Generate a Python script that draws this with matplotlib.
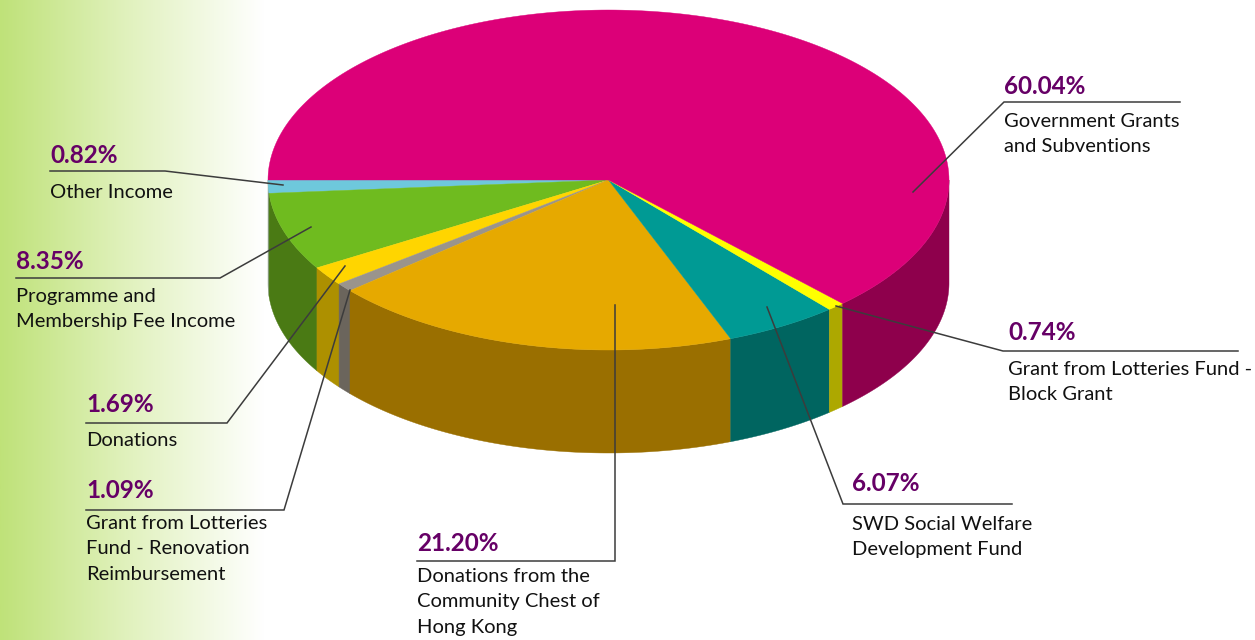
import numpy as np
import matplotlib
matplotlib.use('Agg')
import matplotlib.pyplot as plt
from matplotlib.colors import LinearSegmentedColormap

plt.rcParams['font.family'] = ['Lato', 'DejaVu Sans']

# order goes round the pie from the left edge, through the bottom
categories = ['Other Income', 'Programme and\nMembership Fee Income', 'Donations',
              'Grant from Lotteries\nFund - Renovation\nReimbursement',
              'Donations from the\nCommunity Chest of\nHong Kong',
              'SWD Social Welfare\nDevelopment Fund',
              'Grant from Lotteries Fund -\nBlock Grant',
              'Government Grants\nand Subventions']
printed_pct = [0.82, 8.35, 1.69, 1.09, 21.20, 6.07, 0.74, 60.04]
# the slices in the artwork are not quite the printed numbers, these are read off the drawing
drawn_pct = [1.25, 7.39, 1.83, 0.81, 19.56, 5.39, 0.83, 62.94]

top_colors = ['#6ec8dc', '#6fbb1f', '#ffd500', '#9a948c', '#e6a900', '#009a94', '#ffff00', '#dc0078']
side_colors = ['#8fa08a', '#4a7a14', '#ad9000', '#6b655c', '#9a6f00', '#006560', '#ada800', '#8e004c']

# label x, baseline of the percentage, baseline of the first name line
label_pos = [(50, 163, 198), (16, 269, 302), (86, 412, 446), (86, 498, 529),
             (417, 551, 582), (852, 491, 530), (1008, 340, 375), (1004, 94, 127)]
leaders = [[(50, 171), (165, 171), (283, 185)],
           [(16, 278), (220, 278), (311, 227)],
           [(86, 423), (227, 423), (345, 266)],
           [(86, 510), (284, 510), (350, 290)],
           [(417, 561), (615, 561), (615, 305)],
           [(1012, 504), (843, 504), (767, 307)],
           [(1238, 351), (1003, 351), (836, 306)],
           [(1180, 102), (1004, 102), (913, 192)]]

cx, cy = 608.5, 180
rx, ry = 340.5, 170
depth = 103


def arc(a1, a2, dy=0):
    t = np.radians(np.linspace(a1, a2, 200))
    return cx + rx * np.cos(t), cy - ry * np.sin(t) + dy


fig = plt.figure(figsize=(12.55, 6.4), dpi=100)
ax = fig.add_axes([0, 0, 1, 1])
ax.axis('off')

cmap = LinearSegmentedColormap.from_list('bg', ['#bfe279', '#e2f2c0', '#ffffff'])
ax.imshow(np.linspace(0, 1, 256).reshape(1, -1), cmap=cmap, extent=(0, 265, 640, 0), aspect='auto', zorder=0)
ax.set_xlim(0, 1255)
ax.set_ylim(640, 0)

sweeps = np.array(drawn_pct) * 3.6
starts = 180 + np.concatenate(([0], np.cumsum(sweeps)[:-1]))

# walls first, only the front half of the rim can be seen
for start, sweep, col in zip(starts, sweeps, side_colors):
    a1, a2 = start, min(start + sweep, 360)
    xt, yt = arc(a1, a2)
    xb, yb = arc(a1, a2, depth)
    ax.fill(np.r_[xt, xb[::-1]], np.r_[yt, yb[::-1]], color=col, lw=0.3, zorder=1)

for start, sweep, col in zip(starts, sweeps, top_colors):
    xt, yt = arc(start, start + sweep)
    ax.fill(np.r_[cx, xt], np.r_[cy, yt], color=col, lw=0.3, zorder=2)

for line in leaders:
    xs, ys = zip(*line)
    ax.plot(xs, ys, color='#3c3c3c', lw=1.1, zorder=3, solid_joinstyle='miter')

for cat, pct, (x, y_pct, y_name) in zip(categories, printed_pct, label_pos):
    ax.text(x, y_pct, '%.2f%%' % pct, color='#660066', fontsize=17.5, fontweight='bold', va='baseline', ha='left', zorder=4)
    for i, part in enumerate(cat.split('\n')):
        ax.text(x, y_name + i * 25.5, part, color='#111111', fontsize=14.5, va='baseline', ha='left', zorder=4)

plt.savefig('out.png', dpi=100)
